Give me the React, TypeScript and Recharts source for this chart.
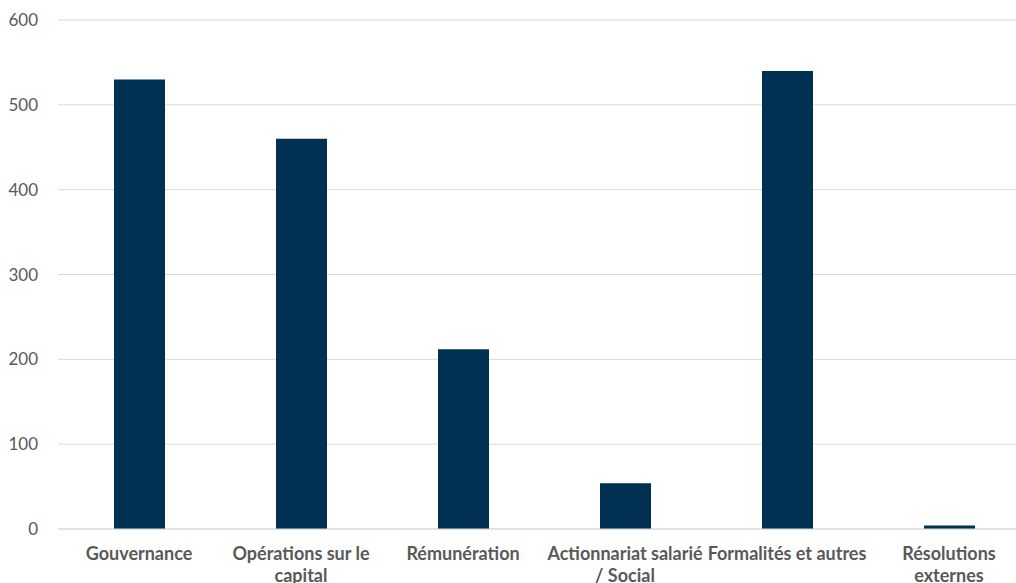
import React from 'react';
import { BarChart, Bar, XAxis, YAxis, CartesianGrid } from 'recharts';

const categories = [
  'Gouvernance',
  'Opérations sur le\ncapital',
  'Rémunération',
  'Actionnariat salarié\n/ Social',
  'Formalités et autres',
  'Résolutions\nexternes',
];
const values = [530, 460, 212, 54, 540, 4];
const yTicks = [0, 100, 200, 300, 400, 500, 600];

const data = categories.map((c, i) => ({ name: c, value: values[i] }));

const FONT = 'Lato, "Open Sans", sans-serif';

const XTick = (props: any) => {
  const { x, y, payload } = props;
  const lines = String(payload.value).split('\n');
  return (
    <g transform={`translate(${x},${y})`}>
      {lines.map((l, i) => (
        <text
          key={i}
          x={0}
          y={0}
          dy={23 + i * 22}
          textAnchor="middle"
          fill="#595959"
          fontFamily={FONT}
          fontWeight={700}
          fontSize={18}
        >
          {l}
        </text>
      ))}
    </g>
  );
};

export default function App() {
  return (
    <div style={{ position: 'absolute', left: 0, top: 0, width: 1016, height: 583, overflow: 'hidden', background: '#fff' }}>
      <BarChart
        width={1030}
        height={583}
        data={data}
        margin={{ top: 20, right: 0, bottom: 0, left: 0 }}
        barCategoryGap={0}
      >
        <CartesianGrid vertical={false} stroke="#d9d9d9" />
        <XAxis
          dataKey="name"
          height={54}
          tickLine={false}
          axisLine={{ stroke: '#d9d9d9' }}
          interval={0}
          tick={<XTick />}
        />
        <YAxis
          width={58}
          domain={[0, 600]}
          ticks={yTicks}
          tickLine={false}
          axisLine={false}
          tickSize={0}
          tickMargin={20}
          tick={{ fill: '#595959', fontSize: 17, fontFamily: FONT }}
        />
        <Bar dataKey="value" fill="#003152" barSize={51} isAnimationActive={false} />
      </BarChart>
    </div>
  );
}
